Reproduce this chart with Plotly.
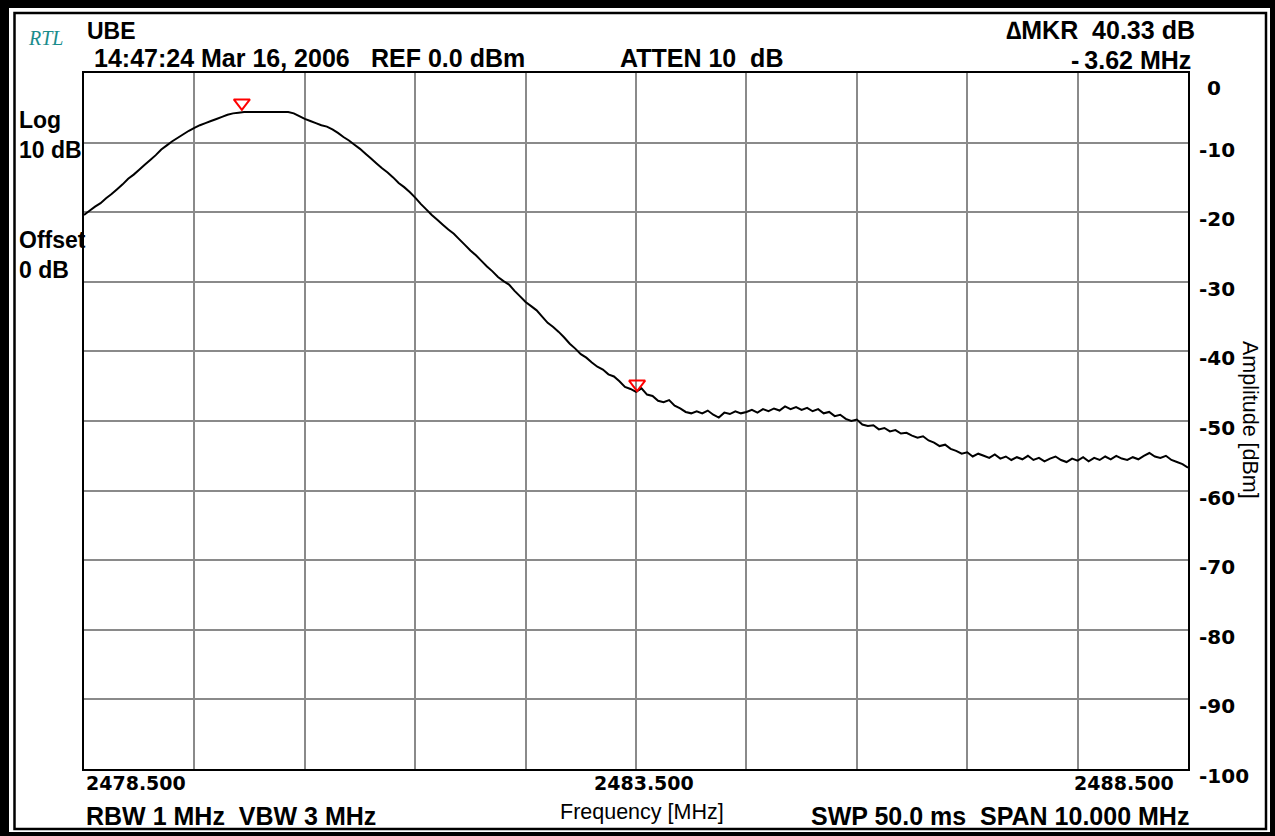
import plotly.graph_objects as go

# ---------------- data ----------------
START_MHZ = 2478.5
STEP_MHZ = 0.05
amplitude_dbm = [
    -20.4, -19.8, -19.2, -18.7, -18.0, -17.4, -16.7, -16.0, -15.2, -14.6,
    -13.9, -13.2, -12.5, -11.8, -11.0, -10.4, -9.8, -9.3, -8.8, -8.3,
    -7.9, -7.5, -7.2, -6.9, -6.6, -6.3, -6.0, -5.8, -5.7, -5.6,
    -5.6, -5.6, -5.6, -5.6, -5.6, -5.6, -5.6, -5.6, -5.8, -6.2,
    -6.6, -6.9, -7.2, -7.5, -7.7, -8.1, -8.6, -9.2, -9.7, -10.3,
    -10.9, -11.6, -12.3, -13.0, -13.7, -14.3, -15.0, -15.8, -16.4, -17.1,
    -17.9, -18.8, -19.6, -20.4, -21.1, -21.8, -22.5, -23.1, -23.9, -24.7,
    -25.5, -26.2, -27.0, -27.8, -28.5, -29.3, -29.9, -30.4, -31.3, -32.1,
    -32.9, -33.5, -34.1, -35.0, -35.9, -36.5, -37.2, -38.0, -38.9, -39.6,
    -40.4, -40.9, -41.6, -42.2, -42.6, -43.3, -43.6, -44.3, -45.1, -45.4,
    -45.8, -45.3, -46.2, -46.4, -47.1, -47.3, -47.0, -47.8, -48.2, -48.7,
    -48.9, -48.6, -48.9, -48.5, -49.1, -49.5, -48.8, -49.0, -48.6, -48.9,
    -48.7, -48.4, -48.8, -48.3, -48.6, -48.2, -48.5, -47.9, -48.3, -48.0,
    -48.4, -48.1, -48.6, -48.3, -48.9, -48.7, -49.3, -49.1, -49.7, -50.0,
    -49.8, -50.5, -50.7, -50.6, -51.2, -51.0, -51.5, -51.3, -51.8, -51.7,
    -52.1, -52.4, -52.2, -52.8, -53.1, -53.6, -53.4, -54.0, -54.3, -54.7,
    -54.5, -55.1, -54.7, -55.0, -55.3, -54.8, -55.4, -55.1, -55.6, -55.2,
    -55.5, -55.0, -55.6, -55.3, -55.8, -55.4, -55.1, -55.6, -55.9, -55.4,
    -55.7, -55.2, -55.8, -55.3, -55.6, -55.1, -55.5, -55.0, -55.4, -55.6,
    -55.2, -55.5, -55.0, -54.6, -55.1, -55.3, -55.0, -55.6, -55.9, -56.2,
    -56.7,
]
freq_mhz = [round(START_MHZ + STEP_MHZ * i, 3) for i in range(len(amplitude_dbm))]

marker_freq = [2479.93, 2483.51]
marker_amp = [-4.3, -44.7]

x_tick_vals = [2478.5, 2483.5, 2488.5]
x_tick_text = ["2478.500", "2483.500", "2488.500"]
y_tick_vals = [0, -10, -20, -30, -40, -50, -60, -70, -80, -90, -100]
y_tick_text = ["0", "-10", "-20", "-30", "-40", "-50", "-60", "-70", "-80", "-90", "-100"]

# ---------------- layout helpers ----------------
W, H = 1275, 836
L, R, T, B = 84, 1188, 73, 769


def px(x):
    return (x - L) / (R - L)


def py(y):
    return (B - y) / (B - T)


HDR = "Liberation Sans"
NUM = "DejaVu Sans"

fig = go.Figure()
fig.add_trace(go.Scatter(
    x=freq_mhz, y=amplitude_dbm, mode="lines",
    line=dict(color="black", width=2, simplify=False), hoverinfo="skip", showlegend=False,
))
fig.add_trace(go.Scatter(
    x=marker_freq, y=marker_amp, mode="markers",
    marker=dict(symbol="triangle-down-open", size=14, color="red",
                line=dict(color="red", width=2)),
    hoverinfo="skip", showlegend=False,
))

ann = []


def text(s, x, y, anchor="left", size=25, family=HDR, color="black", bold=True, angle=0):
    ann.append(dict(
        text=("<b>%s</b>" % s) if bold else s,
        x=px(x), y=py(y), xref="paper", yref="paper",
        xanchor=anchor, yanchor="middle", showarrow=False,
        font=dict(family=family, size=size, color=color), textangle=angle,
    ))


text("RTL", 26, 38, size=20, family="Liberation Serif", color="#1a8c8c", bold=False)
ann[-1]["text"] = "<i>RTL</i>"
text("UBE", 85, 31, size=23)
text("14:47:24 Mar 16, 2006", 92, 58)
text("REF 0.0 dBm", 369, 58)
text("ATTEN 10\u00a0\u00a0dB", 618, 58)
text("\u2206MKR\u00a0\u00a040.33 dB", 1197, 30, anchor="right")
text("-\u20093.62 MHz", 1193, 60, anchor="right")
text("Log", 17, 120, size=23)
text("10 dB", 17, 150, size=23)
text("Offset", 17, 240, size=23)
text("0 dB", 17, 270, size=23)
text("RBW 1 MHz\u00a0\u00a0VBW 3 MHz", 84, 816)
text("SWP 50.0 ms\u00a0\u00a0SPAN 10.000 MHz", 1191, 816, anchor="right")
text("Frequency [MHz]", 642, 812, anchor="center", size=21.5, bold=False)
text("Amplitude [dBm]", 1250, 420, anchor="center", size=21.5, bold=False, angle=90)

# x-axis labels (data coords)
x_anchor = ["left", "center", "right"]
x_shift = [0, 8, -12]
for v, t, a, s in zip(x_tick_vals, x_tick_text, x_anchor, x_shift):
    ann.append(dict(text="<b>%s</b>" % t, x=v, y=0, xref="x", yref="paper",
                    xanchor=a, yanchor="middle", yshift=-14, xshift=s, showarrow=False,
                    font=dict(family=NUM, size=19, color="black")))
# y-axis labels (data coords)
for v, t in zip(y_tick_vals, y_tick_text):
    ann.append(dict(text="<b>%s</b>" % t, x=1, y=v, xref="paper", yref="y",
                    xanchor="left", yanchor="middle",
                    xshift=(17 if t == "0" else 9), yshift=(-15 if t == "0" else -7),
                    showarrow=False, font=dict(family=NUM, size=20, color="black")))

shapes = [
    dict(type="rect", xref="paper", yref="paper", x0=px(9), x1=px(1270), y0=py(8), y1=py(832),
         fillcolor="white", line=dict(width=0), layer="below"),
    dict(type="rect", xref="paper", yref="paper", x0=px(14.5), x1=px(1266), y0=py(13), y1=py(829),
         fillcolor="rgba(0,0,0,0)", line=dict(color="black", width=2.5), layer="below"),
]

fig.update_layout(
    width=W, height=H,
    margin=dict(l=L, r=W - R, t=T, b=H - B, pad=0),
    paper_bgcolor="black", plot_bgcolor="white",
    annotations=ann, shapes=shapes, showlegend=False,
    xaxis=dict(range=[2478.5, 2488.5], tick0=2478.5, dtick=1, showticklabels=False,
               showgrid=True, gridcolor="#8a8a8a", gridwidth=2, zeroline=False,
               showline=True, linecolor="black", linewidth=2, mirror=True, ticks=""),
    yaxis=dict(range=[-100, 0], dtick=10, showticklabels=False,
               showgrid=True, gridcolor="#8a8a8a", gridwidth=2, zeroline=False,
               showline=True, linecolor="black", linewidth=2, mirror=True, ticks=""),
)

fig.write_html("out.html")
